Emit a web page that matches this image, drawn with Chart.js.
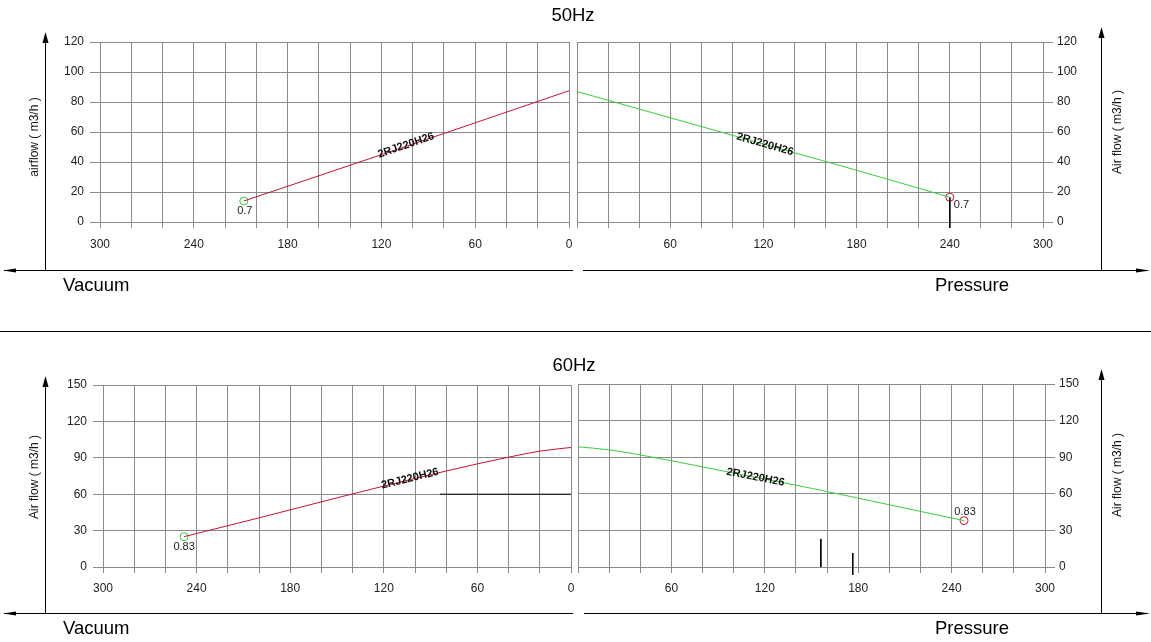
<!DOCTYPE html>
<html>
<head>
<meta charset="utf-8">
<script src="https://cdn.jsdelivr.net/npm/chart.js@4.4.1/dist/chart.umd.min.js"></script>
<style>
    body { margin: 0; background: #fff; }
    #wrap { position: relative; width: 1151px; height: 642px; overflow: hidden; font-family: Arial, "Liberation Sans", sans-serif; }
    canvas { position: absolute; }
    .t { position: absolute; color: #000; white-space: nowrap; line-height: 1; }
    .big { font-size: 18.5px; }
    .ytitle { position: absolute; font-size: 12px; color: #111; white-space: nowrap; transform: translate(-50%, -50%) rotate(-90deg); line-height: 1; }
    svg { position: absolute; left: 0; top: 0; }
</style>
</head>
<body>
<div id="wrap">
    <canvas id="chart_vac50" width="576" height="260" style="left:0;top:0"></canvas>
    <canvas id="chart_pre50" width="581" height="260" style="left:570px;top:0"></canvas>
    <canvas id="chart_vac60" width="576" height="270" style="left:0;top:340px"></canvas>
    <canvas id="chart_pre60" width="581" height="270" style="left:570px;top:340px"></canvas>

    <svg width="1151" height="642">
        <g stroke="#000" stroke-width="1" fill="none">
            <line x1="0" y1="331.5" x2="1151" y2="331.5"/>
            <line x1="45.5" y1="36" x2="45.5" y2="270"/>
            <line x1="1101.5" y1="31" x2="1101.5" y2="270"/>
            <line x1="4" y1="270.5" x2="573" y2="270.5"/>
            <line x1="583" y1="270.5" x2="1147" y2="270.5"/>
            <line x1="45.5" y1="380" x2="45.5" y2="613"/>
            <line x1="1101.5" y1="373" x2="1101.5" y2="613"/>
            <line x1="4" y1="613.5" x2="573" y2="613.5"/>
            <line x1="584" y1="613.5" x2="1147" y2="613.5"/>
        </g>
        <g fill="#000">
            <polygon points="45.5,32 42.5,43 48.5,43"/>
            <polygon points="1101.5,27 1098.5,38 1104.5,38"/>
            <polygon points="3,270.5 16,268.5 16,272.5"/>
            <polygon points="1150,270.5 1136,268.5 1136,272.5"/>
            <polygon points="45.5,376 42.5,387 48.5,387"/>
            <polygon points="1101.5,369 1098.5,380 1104.5,380"/>
            <polygon points="3,613.5 16,611.5 16,615.5"/>
            <polygon points="1150,613.5 1136,611.5 1136,615.5"/>
        </g>
    </svg>

    <div class="t big" style="left:573px;top:15px;transform:translate(-50%,-50%)">50Hz</div>
    <div class="t big" style="left:574px;top:365px;transform:translate(-50%,-50%)">60Hz</div>
    <div class="t big" style="left:63px;top:285px;transform:translateY(-50%)">Vacuum</div>
    <div class="t big" style="left:935px;top:285px;transform:translateY(-50%)">Pressure</div>
    <div class="t big" style="left:63px;top:628px;transform:translateY(-50%)">Vacuum</div>
    <div class="t big" style="left:935px;top:628px;transform:translateY(-50%)">Pressure</div>

    <div class="ytitle" style="left:34px;top:137px">airflow ( m3/h )</div>
    <div class="ytitle" style="left:1117px;top:132px">Air flow ( m3/h )</div>
    <div class="ytitle" style="left:34px;top:477px">Air flow ( m3/h )</div>
    <div class="ytitle" style="left:1117px;top:475px">Air flow ( m3/h )</div>
</div>

<script>
// ---- data ----
const modelName = '2RJ220H26';

// 50Hz
const vacuum50 = [208, 104, 0];
const vacuumFlow50 = [14, 50.5, 87.5];
const pressure50 = [0, 60, 120, 180, 240];
const pressureFlow50 = [87, 69.5, 52, 34.5, 16.5];

// 60Hz
const vacuum60 = [248, 200, 150, 100, 60, 40, 20, 0];
const vacuumFlow60 = [25, 40.5, 57, 73, 85, 90.5, 95.5, 98.5];
const pressure60 = [0, 20, 50, 100, 150, 200, 248];
const pressureFlow60 = [98.5, 96, 89.5, 77, 64.5, 51, 38];

// rated points (x, flow, motor kW)
const ratedVac50 = [208, 14, '0.7'];
const ratedPre50 = [240, 16.5, '0.7'];
const ratedVac60 = [248, 25, '0.83'];
const ratedPre60 = [248, 38, '0.83'];

// odd black strokes in the source picture
const strayPre50X = [240, 240];
const strayPre50Y = [16.5, -4];
const strayVac60X = [84, 0];
const strayVac60Y = [60, 60];
const strayPre60aX = [156, 156];
const strayPre60aY = [23, 0];
const strayPre60bX = [176.5, 176.5];
const strayPre60bY = [11.5, -6.5];

// ticks
const xLabelsVac = [0, 60, 120, 180, 240, 300];
const xLabelsPre = [60, 120, 180, 240, 300];
const yTicks50 = [0, 20, 40, 60, 80, 100, 120];
const yTicks60 = [0, 30, 60, 90, 120, 150];

const RED = '#c4122f';
const GREEN = '#3ccc3c';
const GRID = '#8a8a8a';

function pts(xs, ys) {
    return xs.map((x, i) => ({x: x, y: ys[i]}));
}

function curve(xs, ys, color) {
    return {
        data: pts(xs, ys),
        borderColor: color,
        borderWidth: 1,
        pointRadius: 0,
        cubicInterpolationMode: 'monotone',
        fill: false,
    };
}

function rated(p, color) {
    return {
        data: [{x: p[0], y: p[1]}],
        showLine: false,
        pointRadius: 4,
        pointBorderWidth: 1,
        pointBorderColor: color,
        pointBackgroundColor: '#fff',
        note: p[2],
    };
}

function stray(xs, ys) {
    return {
        data: pts(xs, ys),
        borderColor: '#000',
        borderWidth: 1,
        pointRadius: 0,
        clip: false,
    };
}

// label written along a curve
const curveLabel = {
    id: 'curveLabel',
    afterDatasetsDraw(chart, args, o) {
        if (!o || !o.text) return;
        const d = chart.data.datasets[o.dataset].data.slice().sort((a, b) => a.x - b.x);
        let i = 0;
        while (i < d.length - 2 && d[i + 1].x < o.at) i++;
        const xs = chart.scales.x, ys = chart.scales.y;
        const a = d[i], b = d[i + 1];
        const t = (o.at - a.x) / (b.x - a.x);
        const yv = a.y + t * (b.y - a.y);
        let p0 = {x: xs.getPixelForValue(a.x), y: ys.getPixelForValue(a.y)};
        let p1 = {x: xs.getPixelForValue(b.x), y: ys.getPixelForValue(b.y)};
        if (p1.x < p0.x) [p0, p1] = [p1, p0];
        const ang = Math.atan2(p1.y - p0.y, p1.x - p0.x);
        const ctx = chart.ctx;
        ctx.save();
        ctx.translate(xs.getPixelForValue(o.at), ys.getPixelForValue(yv));
        ctx.rotate(ang);
        ctx.font = 'bold 11px Arial';
        ctx.fillStyle = '#111';
        ctx.textAlign = 'center';
        ctx.textBaseline = 'alphabetic';
        ctx.fillText(o.text, 0, o.lift);
        ctx.restore();
    }
};

// small kW note next to the rated point
const ratedNote = {
    id: 'ratedNote',
    afterDatasetsDraw(chart, args, o) {
        if (!o) return;
        const ds = chart.data.datasets[o.dataset];
        const p = ds.data[0];
        const ctx = chart.ctx;
        ctx.save();
        ctx.font = '11px Arial';
        ctx.fillStyle = '#222';
        ctx.textAlign = o.align;
        ctx.textBaseline = 'middle';
        ctx.fillText(ds.note, chart.scales.x.getPixelForValue(p.x) + o.dx, chart.scales.y.getPixelForValue(p.y) + o.dy);
        ctx.restore();
    }
};

Chart.register(curveLabel, ratedNote);

function buildPanel(id, p) {
    return new Chart(document.getElementById(id), {
        type: 'line',
        data: {datasets: p.datasets},
        options: {
            responsive: false,
            animation: false,
            events: [],
            layout: {padding: p.padding},
            plugins: {
                legend: {display: false},
                tooltip: {enabled: false},
                curveLabel: p.curveLabel,
                ratedNote: p.ratedNote,
            },
            scales: {
                x: {
                    type: 'linear',
                    min: 0,
                    max: 300,
                    reverse: p.reverse,
                    afterFit: (s) => { s.height = p.xHeight; s.paddingLeft = 0; s.paddingRight = 0; },
                    grid: {color: GRID, tickLength: 6, tickColor: GRID},
                    border: {color: GRID},
                    ticks: {
                        stepSize: 20,
                        autoSkip: false,
                        maxRotation: 0,
                        padding: p.xPad,
                        color: '#222',
                        font: {family: 'Arial', size: 12},
                        callback: (v) => p.xLabels.includes(v) ? String(v) : '',
                    },
                },
                y: {
                    position: p.side,
                    min: 0,
                    max: p.yTicks[p.yTicks.length - 1],
                    afterFit: (s) => { s.width = p.yWidth; s.paddingTop = 0; s.paddingBottom = 0; },
                    grid: {color: GRID, tickLength: 10, tickColor: GRID},
                    border: {color: GRID},
                    ticks: {
                        stepSize: p.yTicks[1],
                        padding: p.side === 'left' ? 6 : 4,
                        color: '#222',
                        font: {family: 'Arial', size: 12},
                    },
                },
            },
        },
    });
}

buildPanel('chart_vac50', {
    reverse: true, side: 'left', yTicks: yTicks50, xLabels: xLabelsVac, xPad: 9,
    padding: {top: 42, right: 7, left: 0, bottom: 0}, yWidth: 100, xHeight: 38,
    datasets: [curve(vacuum50, vacuumFlow50, RED), rated(ratedVac50, GREEN)],
    curveLabel: {text: modelName, dataset: 0, at: 104, lift: 2},
    ratedNote: {dataset: 1, dx: 1, dy: 10, align: 'center'},
});

buildPanel('chart_pre50', {
    reverse: false, side: 'right', yTicks: yTicks50, xLabels: xLabelsPre, xPad: 9,
    padding: {top: 42, right: 0, left: 7, bottom: 0}, yWidth: 108, xHeight: 38,
    datasets: [curve(pressure50, pressureFlow50, GREEN), stray(strayPre50X, strayPre50Y), rated(ratedPre50, RED)],
    curveLabel: {text: modelName, dataset: 0, at: 121, lift: 3},
    ratedNote: {dataset: 2, dx: 4, dy: 8, align: 'left'},
});

buildPanel('chart_vac60', {
    reverse: true, side: 'left', yTicks: yTicks60, xLabels: xLabelsVac, xPad: 8,
    padding: {top: 45, right: 5, left: 0, bottom: 0}, yWidth: 103, xHeight: 43,
    datasets: [curve(vacuum60, vacuumFlow60, RED), stray(strayVac60X, strayVac60Y), rated(ratedVac60, GREEN)],
    curveLabel: {text: modelName, dataset: 0, at: 103, lift: 2},
    ratedNote: {dataset: 2, dx: 0, dy: 10, align: 'center'},
});

buildPanel('chart_pre60', {
    reverse: false, side: 'right', yTicks: yTicks60, xLabels: xLabelsPre, xPad: 8,
    padding: {top: 44, right: 0, left: 8, bottom: 0}, yWidth: 106, xHeight: 43,
    datasets: [curve(pressure60, pressureFlow60, GREEN), stray(strayPre60aX, strayPre60aY), stray(strayPre60bX, strayPre60bY), rated(ratedPre60, RED)],
    curveLabel: {text: modelName, dataset: 0, at: 114, lift: 3},
    ratedNote: {dataset: 3, dx: 1, dy: -9, align: 'center'},
});
</script>
</body>
</html>
